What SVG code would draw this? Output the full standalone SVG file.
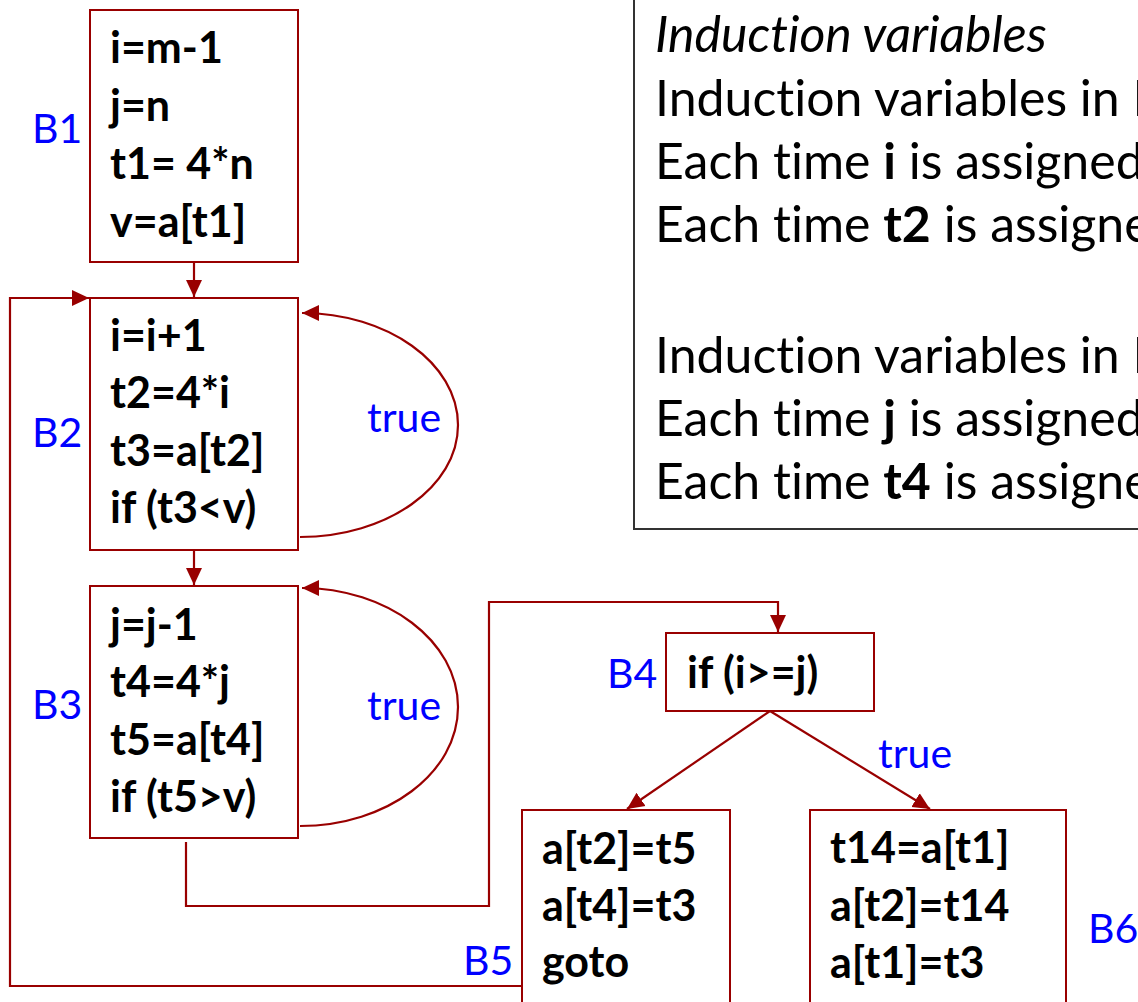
<svg xmlns="http://www.w3.org/2000/svg" width="1138" height="1002" viewBox="0 0 1138 1002">
<style>
text{font-variant-ligatures:none;font-feature-settings:"liga" 0}
.box{fill:#fff;stroke:#990000;stroke-width:2}
.code{font-family:Lato,"Open Sans",sans-serif;font-weight:bold;font-size:43px;fill:#000}
.lbl{font-family:Lato,"Open Sans",sans-serif;font-size:41px;fill:#0000FF}
.edge{fill:none;stroke:#990000;stroke-width:2.2}
.note{font-family:Lato,"Open Sans",sans-serif;font-size:50px;fill:#000}
</style>
<defs>
<marker id="ah" markerUnits="userSpaceOnUse" markerWidth="18" markerHeight="18" refX="17" refY="8" orient="auto" viewBox="0 0 18 16">
<path d="M0,0 L17,8 L0,16 z" fill="#990000"/>
</marker>
</defs>
<rect width="1138" height="1002" fill="#fff"/>

<g id="notes">
<rect x="634" y="-2" width="600" height="531" fill="#fff" stroke="#333" stroke-width="2"/>
<text class="note" x="655" y="52" font-style="italic">Induction variables</text>
<text class="note" x="655" y="116">Induction variables in B</text>
<text class="note" x="655" y="179">Each time <tspan font-weight="bold">i</tspan> is assigned,</text>
<text class="note" x="655" y="242">Each time <tspan font-weight="bold">t2</tspan> is assigne</text>
<text class="note" x="655" y="373">Induction variables in B</text>
<text class="note" x="655" y="436">Each time <tspan font-weight="bold">j</tspan> is assigned,</text>
<text class="note" x="655" y="499">Each time <tspan font-weight="bold">t4</tspan> is assigne</text>
</g>

<g id="connectors">
<path class="edge" d="M194 262 L194 297" marker-end="url(#ah)"/>
<path class="edge" d="M194 550 L194 585" marker-end="url(#ah)"/>
<path class="edge" d="M300 537 C387 537 458 487 458 425 C458 363 387 313 302 313" marker-end="url(#ah)"/>
<path class="edge" d="M300 826 C387 826 458 773 458 707 C458 641 387 588 302 588" marker-end="url(#ah)"/>
<path class="edge" d="M186 842 L186 906 L489 906 L489 602 L778 602 L778 632" marker-end="url(#ah)"/>
<path class="edge" d="M770 711 L627 809" marker-end="url(#ah)"/>
<path class="edge" d="M770 711 L930 809" marker-end="url(#ah)"/>
<path class="edge" d="M522 986 L10 986 L10 298 L89 298" marker-end="url(#ah)"/>
<text class="lbl" x="367" y="432">true</text>
<text class="lbl" x="367" y="720">true</text>
<text class="lbl" x="878" y="768">true</text>
</g>

<g id="B1">
<rect class="box" x="90" y="10" width="208" height="252"/>
<text class="lbl" x="32" y="143">B1</text>
<text class="code" x="110" y="63">i=m-1</text>
<text class="code" x="110" y="121">j=n</text>
<text class="code" x="110" y="179">t1= 4*n</text>
<text class="code" x="110" y="237">v=a[t1]</text>
</g>

<g id="B2">
<rect class="box" x="90" y="298" width="208" height="252"/>
<text class="lbl" x="32" y="447">B2</text>
<text class="code" x="110" y="351">i=i+1</text>
<text class="code" x="110" y="408">t2=4*i</text>
<text class="code" x="110" y="466">t3=a[t2]</text>
<text class="code" x="110" y="523">if (t3&lt;v)</text>
</g>

<g id="B3">
<rect class="box" x="90" y="586" width="208" height="252"/>
<text class="lbl" x="32" y="719">B3</text>
<text class="code" x="110" y="640">j=j-1</text>
<text class="code" x="110" y="697">t4=4*j</text>
<text class="code" x="110" y="755">t5=a[t4]</text>
<text class="code" x="110" y="812">if (t5&gt;v)</text>
</g>

<g id="B4">
<rect class="box" x="666" y="633" width="208" height="78"/>
<text class="lbl" x="607" y="688">B4</text>
<text class="code" x="687" y="688">if (i&gt;=j)</text>
</g>

<g id="B5">
<rect class="box" x="522" y="810" width="208" height="200"/>
<text class="lbl" x="463" y="975">B5</text>
<text class="code" x="542" y="864">a[t2]=t5</text>
<text class="code" x="542" y="921">a[t4]=t3</text>
<text class="code" x="542" y="977">goto</text>
</g>

<g id="B6">
<rect class="box" x="810" y="810" width="256" height="200"/>
<text class="lbl" x="1088" y="943">B6</text>
<text class="code" x="830" y="863">t14=a[t1]</text>
<text class="code" x="830" y="921">a[t2]=t14</text>
<text class="code" x="830" y="978">a[t1]=t3</text>
</g>
</svg>
